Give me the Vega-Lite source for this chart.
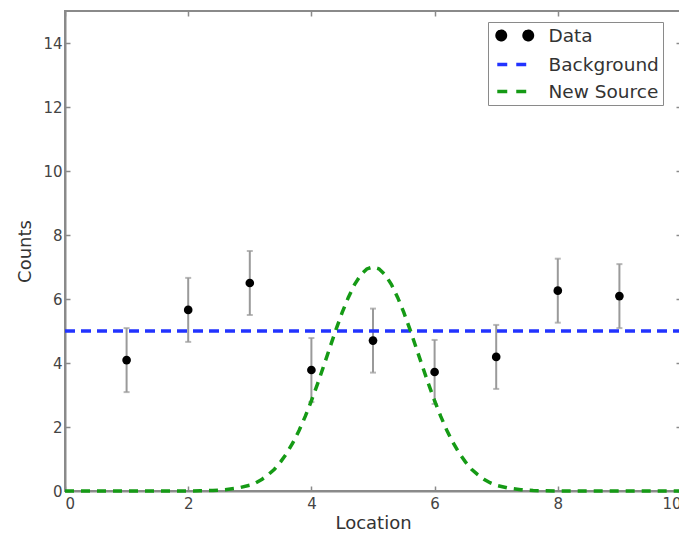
{
  "$schema": "https://vega.github.io/schema/vega-lite/v6.json",
  "autosize": "none",
  "width": 616,
  "height": 480,
  "padding": {"top": 11, "left": 65, "right": 0, "bottom": 43},
  "background": "white",
  "config": {
    "font": "DejaVu Sans",
    "view": {"stroke": "#8a8a8a", "strokeWidth": 2},
    "axis": {
      "grid": false,
      "domainColor": "#8a8a8a",
      "domainWidth": 2,
      "tickColor": "#8a8a8a",
      "tickWidth": 1.5,
      "tickSize": -5,
      "labelColor": "#444",
      "labelFontSize": 15,
      "titleColor": "#333",
      "titleFontSize": 18,
      "titleFontWeight": "normal"
    },
    "legend": {
      "orient": "none",
      "legendX": 423,
      "legendY": 11,
      "direction": "vertical",
      "padding": 4,
      "strokeColor": "#8a8a8a",
      "fillColor": "white",
      "cornerRadius": 0,
      "symbolSize": 225,
      "symbolOffset": 13.25,
      "labelOffset": 24.25,
      "rowPadding": 8,
      "labelFontSize": 18.5,
      "labelColor": "#333"
    }
  },
  "datasets": {
    "obs": [
      {"loc": 1, "counts": 4.09, "lo": 3.09, "hi": 5.09, "series": "Data"},
      {"loc": 2, "counts": 5.66, "lo": 4.66, "hi": 6.66, "series": "Data"},
      {"loc": 3, "counts": 6.5, "lo": 5.5, "hi": 7.5, "series": "Data"},
      {"loc": 4, "counts": 3.78, "lo": 2.78, "hi": 4.78, "series": "Data"},
      {"loc": 5, "counts": 4.7, "lo": 3.7, "hi": 5.7, "series": "Data"},
      {"loc": 6, "counts": 3.72, "lo": 2.72, "hi": 4.72, "series": "Data"},
      {"loc": 7, "counts": 4.19, "lo": 3.19, "hi": 5.19, "series": "Data"},
      {"loc": 8, "counts": 6.26, "lo": 5.26, "hi": 7.26, "series": "Data"},
      {"loc": 9, "counts": 6.09, "lo": 5.09, "hi": 7.09, "series": "Data"}
    ],
    "background": [
      {"loc": 0, "counts": 5, "series": "Background"},
      {"loc": 10, "counts": 5, "series": "Background"}
    ],
    "source": [
      {"loc": 0, "counts": 0, "series": "New Source"},
      {"loc": 2, "counts": 0, "series": "New Source"},
      {"loc": 2.2, "counts": 0.005, "series": "New Source"},
      {"loc": 2.4, "counts": 0.015, "series": "New Source"},
      {"loc": 2.6, "counts": 0.04, "series": "New Source"},
      {"loc": 2.8, "counts": 0.09, "series": "New Source"},
      {"loc": 3.0, "counts": 0.18, "series": "New Source"},
      {"loc": 3.1, "counts": 0.26, "series": "New Source"},
      {"loc": 3.2, "counts": 0.37, "series": "New Source"},
      {"loc": 3.3, "counts": 0.51, "series": "New Source"},
      {"loc": 3.4, "counts": 0.68, "series": "New Source"},
      {"loc": 3.5, "counts": 0.91, "series": "New Source"},
      {"loc": 3.6, "counts": 1.18, "series": "New Source"},
      {"loc": 3.7, "counts": 1.51, "series": "New Source"},
      {"loc": 3.8, "counts": 1.89, "series": "New Source"},
      {"loc": 3.9, "counts": 2.33, "series": "New Source"},
      {"loc": 4.0, "counts": 2.82, "series": "New Source"},
      {"loc": 4.1, "counts": 3.35, "series": "New Source"},
      {"loc": 4.2, "counts": 3.91, "series": "New Source"},
      {"loc": 4.3, "counts": 4.48, "series": "New Source"},
      {"loc": 4.4, "counts": 5.05, "series": "New Source"},
      {"loc": 4.5, "counts": 5.58, "series": "New Source"},
      {"loc": 4.6, "counts": 6.05, "series": "New Source"},
      {"loc": 4.7, "counts": 6.45, "series": "New Source"},
      {"loc": 4.8, "counts": 6.75, "series": "New Source"},
      {"loc": 4.9, "counts": 6.94, "series": "New Source"},
      {"loc": 5.0, "counts": 7.0, "series": "New Source"},
      {"loc": 5.1, "counts": 6.94, "series": "New Source"},
      {"loc": 5.2, "counts": 6.75, "series": "New Source"},
      {"loc": 5.3, "counts": 6.45, "series": "New Source"},
      {"loc": 5.4, "counts": 6.05, "series": "New Source"},
      {"loc": 5.5, "counts": 5.58, "series": "New Source"},
      {"loc": 5.6, "counts": 5.05, "series": "New Source"},
      {"loc": 5.7, "counts": 4.48, "series": "New Source"},
      {"loc": 5.8, "counts": 3.91, "series": "New Source"},
      {"loc": 5.9, "counts": 3.35, "series": "New Source"},
      {"loc": 6.0, "counts": 2.82, "series": "New Source"},
      {"loc": 6.1, "counts": 2.33, "series": "New Source"},
      {"loc": 6.2, "counts": 1.89, "series": "New Source"},
      {"loc": 6.3, "counts": 1.51, "series": "New Source"},
      {"loc": 6.4, "counts": 1.18, "series": "New Source"},
      {"loc": 6.5, "counts": 0.91, "series": "New Source"},
      {"loc": 6.6, "counts": 0.68, "series": "New Source"},
      {"loc": 6.7, "counts": 0.51, "series": "New Source"},
      {"loc": 6.8, "counts": 0.37, "series": "New Source"},
      {"loc": 6.9, "counts": 0.26, "series": "New Source"},
      {"loc": 7.0, "counts": 0.18, "series": "New Source"},
      {"loc": 7.2, "counts": 0.09, "series": "New Source"},
      {"loc": 7.4, "counts": 0.04, "series": "New Source"},
      {"loc": 7.6, "counts": 0.015, "series": "New Source"},
      {"loc": 7.8, "counts": 0.005, "series": "New Source"},
      {"loc": 8, "counts": 0, "series": "New Source"},
      {"loc": 10, "counts": 0, "series": "New Source"}
    ]
  },
  "encoding": {
    "x": {"field": "loc", "type": "quantitative", "scale": {"domain": [0, 10], "nice": false, "zero": false}},
    "y": {"field": "counts", "type": "quantitative", "scale": {"domain": [0, 15], "nice": false}}
  },
  "layer": [
    {
      "data": {"name": "obs"},
      "mark": {"type": "errorbar", "color": "#9a9a9a", "thickness": 2, "ticks": {"size": 6, "color": "#9a9a9a"}},
      "encoding": {
        "x": {"field": "loc", "type": "quantitative", "axis": null},
        "y": {"field": "lo", "type": "quantitative", "axis": null},
        "y2": {"field": "hi"}
      }
    },
    {
      "data": {"name": "background"},
      "mark": {"type": "line", "strokeWidth": 3.5, "strokeDash": [10, 6]},
      "encoding": {
        "x": {"field": "loc", "type": "quantitative", "axis": {"orient": "top", "labels": false, "domain": false, "title": null, "values": [0, 2, 4, 6, 8, 10]}},
        "y": {"field": "counts", "type": "quantitative", "axis": {"orient": "right", "labels": false, "domain": false, "title": null, "values": [0, 2, 4, 6, 8, 10, 12, 14]}},
        "color": {
          "field": "series",
          "type": "nominal",
          "scale": {"domain": ["Data", "Background", "New Source"], "range": ["#000000", "#2233ff", "#159a15"]},
          "legend": {
            "title": null,
            "encode": {
              "symbols": {
                "update": {
                  "shape": [
                    {"test": "datum.value === 'Data'", "value": "M-2.36,0a0.56,0.56 0 1,0 1.12,0a0.56,0.56 0 1,0 -1.12,0M1.24,0a0.56,0.56 0 1,0 1.12,0a0.56,0.56 0 1,0 -1.12,0"},
                    {"value": "M-2.33,0H-1.0M0.2,0H1.53"}
                  ],
                  "fill": [
                    {"test": "datum.value === 'Data'", "value": "#000000"},
                    {"value": "transparent"}
                  ],
                  "stroke": [
                    {"test": "datum.value === 'Data'", "value": "transparent"},
                    {"test": "datum.value === 'Background'", "value": "#2233ff"},
                    {"value": "#159a15"}
                  ],
                  "strokeDash": {"value": [1, 0]},
                  "strokeWidth": {"value": 3.5},
                  "opacity": {"value": 1}
                }
              }
            }
          }
        }
      }
    },
    {
      "data": {"name": "source"},
      "mark": {"type": "line", "strokeWidth": 3.5, "strokeDash": [9, 7]},
      "encoding": {
        "x": {"field": "loc", "type": "quantitative", "axis": null},
        "y": {"field": "counts", "type": "quantitative", "axis": null},
        "color": {"field": "series", "type": "nominal"}
      }
    },
    {
      "data": {"name": "obs"},
      "mark": {"type": "circle", "size": 75, "opacity": 1},
      "encoding": {
        "x": {"field": "loc", "type": "quantitative", "axis": {"orient": "bottom", "title": "Location", "values": [0, 2, 4, 6, 8, 10], "labelPadding": 10, "titlePadding": 3}},
        "y": {"field": "counts", "type": "quantitative", "axis": {"orient": "left", "title": "Counts", "values": [0, 2, 4, 6, 8, 10, 12, 14], "labelPadding": 8, "titlePadding": 8}},
        "color": {"field": "series", "type": "nominal"}
      }
    }
  ]
}
